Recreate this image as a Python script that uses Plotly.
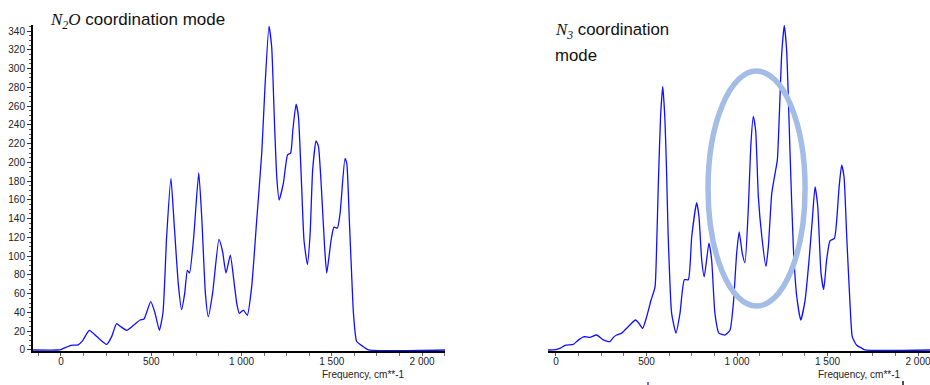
import plotly.graph_objects as go

# ---- data ----
left_freq = [-155, -20, 0, 30, 55, 95, 120, 157, 200, 253, 280, 308, 330, 364, 400, 438, 460, 497, 520, 545,
             565, 585, 609, 625, 650, 668, 685, 700, 712, 735, 763, 780, 800, 816, 840, 875, 895, 914, 938, 960,
             975, 988, 1010, 1032, 1056, 1084, 1112, 1130, 1152, 1167, 1182, 1195, 1208, 1232, 1255, 1272, 1284,
             1302, 1315, 1333, 1346, 1365, 1380, 1394, 1413, 1426, 1444, 1460, 1472, 1496, 1512, 1531, 1546,
             1573, 1583, 1597, 1610, 1620, 1638, 1675, 1703, 2127]
left_int = [0, 0, 0.5, 3, 5, 5.5, 10, 21, 14, 6, 14, 28, 25, 21, 26, 32, 33, 51.5, 40, 21,
            40, 120, 183, 140, 70, 43, 60, 85, 82, 120, 189, 140, 60, 35.5, 61, 118, 105, 82, 101, 70,
            48, 39, 42.6, 37, 67, 138, 210, 281, 345, 323, 245, 185, 160, 178, 208, 210, 234,
            262, 249, 174, 117, 91, 124, 192, 223, 217, 167, 110, 82, 117, 131, 130, 146,
            204, 199, 139, 80, 39, 9, 3.5, 0, 0]

right_freq = [-44, 0, 25, 50, 96, 120, 151, 170, 188, 225, 261, 298, 320, 335, 363, 400, 440, 460, 479, 501,
              525, 547, 556, 565, 578, 590, 602, 611, 620, 639, 663, 685, 709, 731, 750, 777, 790, 805, 819,
              845, 860, 878, 900, 934, 961, 980, 998, 1012, 1029, 1044, 1063, 1076, 1090, 1103, 1118, 1137,
              1160, 1173, 1192, 1210, 1223, 1234, 1247, 1261, 1274, 1293, 1311, 1330, 1352, 1376, 1398, 1416,
              1431, 1446, 1464, 1479, 1495, 1514, 1538, 1551, 1564, 1578, 1591, 1606, 1624, 1637, 1661, 1689,
              1707, 2066]
right_int = [0, 0.5, 2, 5, 6, 10, 14, 14, 13.5, 16, 10.7, 9, 14, 16, 18, 25, 32, 28, 23, 35.5,
             53, 67, 110, 174, 250, 281, 245, 190, 121, 39, 18, 39, 75, 75, 121, 157, 142, 96, 78,
             114, 96, 39, 18, 16, 21, 50, 103, 126, 103, 93, 153, 217, 249, 234, 163, 121,
             89, 110, 167, 188, 203, 252, 316, 346, 320, 210, 110, 57, 32, 53, 96, 139,
             174, 153, 82, 64.6, 96, 116.5, 119, 139, 174, 197, 185, 121, 50, 14, 5, 2,
             0, 0]

x_tick_vals = [0, 500, 1000, 1500, 2000]
x_tick_text = ["0", "500", "1 000", "1 500", "2 000"]
y_tick_vals = list(range(0, 341, 20))
x_title = "Frequency, cm**-1"
left_title = "<span style='font-family:Liberation Serif'><i>N<sub>2</sub>O</i></span> coordination mode"
right_title_1 = "<span style='font-family:Liberation Serif'><i>N<sub>3</sub></i></span> coordination"
right_title_2 = "mode"

W, H = 930, 385
LINE = "#1010ff"

fig = go.Figure()
fig.add_trace(go.Scatter(x=left_freq, y=left_int, mode="lines", xaxis="x", yaxis="y",
                         line=dict(color=LINE, width=1.3, shape="spline", smoothing=0.5),
                         showlegend=False, hoverinfo="skip"))
fig.add_trace(go.Scatter(x=right_freq, y=right_int, mode="lines", xaxis="x2", yaxis="y2",
                         line=dict(color=LINE, width=1.3, shape="spline", smoothing=0.5),
                         showlegend=False, hoverinfo="skip"))

tickfont = dict(family="Liberation Sans, Arial", size=10, color="#222")
yrange = [-1.5, 346.5]
ydom = [(H - 351.4) / H, (H - 25) / H]


def xaxis_style(domain, rng, anchor):
    return dict(domain=domain, range=rng, anchor=anchor, tickvals=x_tick_vals, ticktext=x_tick_text,
                ticks="outside", ticklen=3, tickwidth=1, tickcolor="#555", showline=True, linecolor="black",
                linewidth=2, showgrid=False, zeroline=False, tickfont=tickfont, ticklabeloverflow="allow",
                ticklabelstandoff=-3, automargin=False,
                minor=dict(dtick=125, tick0=0, ticks="outside", ticklen=3, tickcolor="#777", showgrid=False))


fig.update_layout(
    width=W, height=H, autosize=False, margin=dict(l=0, r=0, t=0, b=0, pad=0),
    paper_bgcolor="white", plot_bgcolor="white",
    xaxis=xaxis_style([33 / W, 445 / W], [-155, 2127], "y"),
    yaxis=dict(domain=ydom, range=yrange, tickvals=y_tick_vals, ticks="outside", ticklen=4, tickwidth=1,
               tickcolor="#333", showline=True, linecolor="black", linewidth=2, showgrid=False,
               zeroline=False, tickfont=tickfont, anchor="x", automargin=False,
               minor=dict(dtick=5, ticks="outside", ticklen=2, tickcolor="#555", showgrid=False)),
    xaxis2=xaxis_style([548 / W, 1.0], [-44, 2066], "y2"),
    yaxis2=dict(domain=ydom, range=yrange, visible=False, anchor="x2"),
    shapes=[
        dict(type="circle", xref="x2", yref="y2", x0=840, x1=1376, y0=46.9, y1=297.4,
             line=dict(color="#a3bde7", width=5.5)),
        # small cropped marks visible at the very bottom of the reference image
        dict(type="line", xref="paper", yref="paper", x0=648 / W, x1=648 / W, y0=0, y1=3 / H,
             line=dict(color="#3a3aff", width=1.5)),
        dict(type="line", xref="paper", yref="paper", x0=903 / W, x1=903 / W, y0=0, y1=4 / H,
             line=dict(color="#111", width=1.5)),
    ],
    annotations=[
        dict(text=left_title, xref="paper", yref="paper", x=48 / W, y=(H - 21) / H, xanchor="left",
             yanchor="middle", showarrow=False, font=dict(family="Liberation Sans, Arial", size=17, color="#111")),
        dict(text=right_title_1, xref="paper", yref="paper", x=553 / W, y=(H - 31) / H, xanchor="left",
             yanchor="middle", showarrow=False, font=dict(family="Liberation Sans, Arial", size=16.8, color="#111")),
        dict(text=right_title_2, xref="paper", yref="paper", x=553 / W, y=(H - 55) / H, xanchor="left",
             yanchor="middle", showarrow=False, font=dict(family="Liberation Sans, Arial", size=16.8, color="#111")),
        dict(text=x_title, xref="paper", yref="paper", x=363 / W, y=(H - 374) / H, xanchor="center",
             yanchor="middle", showarrow=False, font=dict(family="Liberation Sans, Arial", size=10, color="#222")),
        dict(text=x_title, xref="paper", yref="paper", x=859 / W, y=(H - 374) / H, xanchor="center",
             yanchor="middle", showarrow=False, font=dict(family="Liberation Sans, Arial", size=10, color="#222")),
    ],
)

fig.write_html("out.html", config={"responsive": False, "displayModeBar": False})
